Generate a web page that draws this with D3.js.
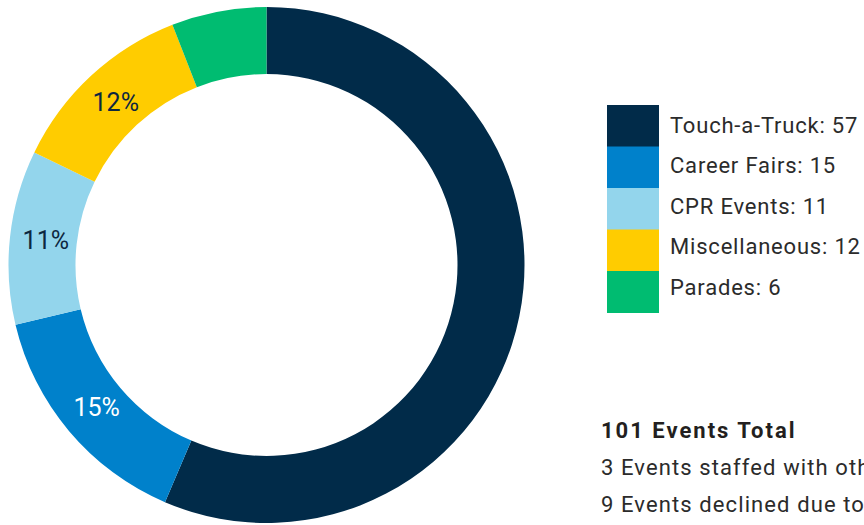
<!DOCTYPE html>
<html>
<head>
<meta charset="utf-8">
<script src="https://cdn.jsdelivr.net/npm/d3@7"></script>
<style>
  html, body { margin: 0; padding: 0; background: #fff; }
  svg { display: block; }
</style>
</head>
<body>
<svg id="chart" width="864" height="525"></svg>
<script>
// Event categories and counts
const categories = ["Touch-a-Truck", "Career Fairs", "CPR Events", "Miscellaneous", "Parades"];
const counts = [57, 15, 11, 12, 6];
const colors = ["#012b49", "#0081cb", "#93d5ec", "#ffcc00", "#00bc71"];
// Which slices carry a percent label, and its colour
const showLabel = [false, true, true, true, false];
const labelColors = ["#ffffff", "#ffffff", "#0d2740", "#0d2740", "#ffffff"];
const summaryTitle = "101 Events Total";
const summaryLines = [
  "3 Events staffed with other departments",
  "9 Events declined due to staffing"
];

const svg = d3.select("#chart");
const total = d3.sum(counts);
const data = categories.map((c, i) => ({ name: c, value: counts[i], i }));

const cx = 266.5, cy = 265;
const outerR = 258, innerR = 191;

const pie = d3.pie().value(d => d.value).sort(null);
const arc = d3.arc().innerRadius(innerR).outerRadius(outerR);
const labelArc = d3.arc().innerRadius(222).outerRadius(222);

const g = svg.append("g").attr("transform", `translate(${cx},${cy})`);
const arcs = pie(data);

g.selectAll("path.slice")
  .data(arcs)
  .join("path")
  .attr("class", "slice")
  .attr("d", arc)
  .attr("fill", d => colors[d.data.i]);

g.selectAll("text.pct")
  .data(arcs.filter(d => showLabel[d.data.i]))
  .join("text")
  .attr("class", "pct")
  .attr("transform", d => {
    const [x, y] = labelArc.centroid(d);
    return `translate(${x},${y})`;
  })
  .attr("text-anchor", "middle")
  .attr("dominant-baseline", "central")
  .attr("font-family", "Roboto, sans-serif")
  .attr("font-size", 25)
  .attr("fill", d => labelColors[d.data.i])
  .text(d => d3.format(".0%")(d.data.value / total));

// Legend
const legendX = 607, legendTop = 105, rowH = 41.5, swW = 52;
const legend = svg.append("g");
legend.selectAll("rect")
  .data(data)
  .join("rect")
  .attr("x", legendX)
  .attr("y", (d, i) => legendTop + i * rowH)
  .attr("width", swW)
  .attr("height", rowH + 0.5)
  .attr("fill", d => colors[d.i]);

legend.selectAll("text")
  .data(data)
  .join("text")
  .attr("x", legendX + swW + 11)
  .attr("y", (d, i) => 132.5 + i * 40.5)
  .attr("font-family", "Roboto, sans-serif")
  .attr("font-size", 22)
  .attr("letter-spacing", 0.8)
  .attr("fill", "#2b2b2b")
  .text(d => `${d.name}: ${d.value}`);

// Summary text
svg.append("text")
  .attr("x", 601)
  .attr("y", 438)
  .attr("font-family", "Roboto, sans-serif")
  .attr("font-weight", "bold")
  .attr("font-size", 22)
  .attr("letter-spacing", 2)
  .attr("fill", "#231f20")
  .text(summaryTitle);

svg.selectAll("text.summary")
  .data(summaryLines)
  .join("text")
  .attr("class", "summary")
  .attr("x", 601)
  .attr("y", (d, i) => 475 + i * 37)
  .attr("font-family", "Roboto, sans-serif")
  .attr("font-size", 22)
  .attr("letter-spacing", 1.1)
  .attr("fill", "#2b2b2b")
  .text(d => d);
</script>
</body>
</html>
